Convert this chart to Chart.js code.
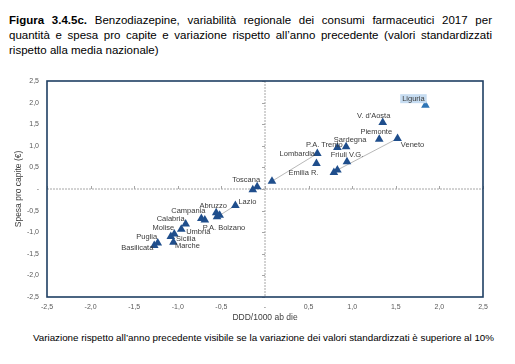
<!DOCTYPE html>
<html>
<head>
<meta charset="utf-8">
<script src="https://cdn.jsdelivr.net/npm/chart.js@4.4.0/dist/chart.umd.min.js"></script>
<style>
body{margin:0;background:#fff;width:515px;height:364px;overflow:hidden;position:relative;font-family:"Liberation Sans",Arial,sans-serif}
#title{position:absolute;left:9px;top:13px;width:483px;font-size:11.5px;line-height:15px;color:#000}
#title div{text-align:justify;text-align-last:justify}
#title div.last{text-align-last:left}
#wrap{position:absolute;left:0;top:60px;width:515px;height:270px}
#note{position:absolute;left:0;width:527px;top:332px;text-align:center;font-size:9.8px;color:#000}
</style>
</head>
<body>
<div id="title">
  <div><b>Figura 3.4.5c.</b> Benzodiazepine, variabilità regionale dei consumi farmaceutici 2017 per</div>
  <div>quantità e spesa pro capite e variazione rispetto all’anno precedente (valori standardizzati</div>
  <div class="last">rispetto alla media nazionale)</div>
</div>
<div id="wrap"><canvas id="myScatter" width="515" height="270"></canvas></div>
<div id="note">Variazione rispetto all’anno precedente visibile se la variazione dei valori standardizzati è superiore al 10%</div>
<script>
// 2017 values, standardised on the national mean
const regions = ['Piemonte', "V. d'Aosta", 'Lombardia', 'P.A. Bolzano', 'P.A. Trento', 'Veneto', 'Friuli V.G.',
  'Liguria', 'Emilia R.', 'Toscana', 'Umbria', 'Marche', 'Lazio', 'Abruzzo', 'Molise', 'Campania',
  'Puglia', 'Basilicata', 'Calabria', 'Sicilia', 'Sardegna']
const ddd = [1.31, 1.35, 0.60, -0.55, 0.83, 1.52, 0.94, 1.84, 0.59, -0.09, -0.96, -1.05, -0.34, -0.56, -1.04, -0.73,
  -1.23, -1.27, -0.91, -1.08, 0.93]
const spesa = [1.15, 1.54, 0.82, -0.64, 0.96, 1.17, 0.63, 1.94, 0.59, 0.05, -0.93, -1.23, -0.38, -0.55, -1.04, -0.68,
  -1.25, -1.31, -0.81, -1.10, 0.98]

// previous year points (only the ones visible on the chart)
const prevDdd = [0.08, 0.83, -0.52, 0.79, -0.14, -0.69]
const prevSpesa = [0.18, 0.44, -0.61, 0.38, -0.02, -0.72]
const prevOf = ['Lombardia', 'Veneto', 'Lazio', null, null, null]

// label placement (pixels from the marker), style only
const labelOffset = {
  'Piemonte': [-3, -7], "V. d'Aosta": [-9, -7], 'Liguria': [-12, -6], 'Veneto': [15, 6], 'Sardegna': [4, -7],
  'P.A. Trento': [-13, -3], 'Lombardia': [-20, 0], 'Friuli V.G.': [0, -7], 'Emilia R.': [-13, 9],
  'Toscana': [-11, -7], 'Lazio': [12, -3], 'Abruzzo': [-3, -7], 'P.A. Bolzano': [7, 11], 'Campania': [-13, -7],
  'Calabria': [-15, -5], 'Umbria': [17, 3], 'Molise': [-11, -6], 'Sicilia': [15, 2], 'Marche': [14, 4],
  'Puglia': [-11, -6], 'Basilicata': [-17, 2]
}

const navy = '#1f4e8c'
const lightBlue = '#2e75b6'

const fmt = v => Math.abs(v) < 1e-9 ? '-' : v.toFixed(1).replace('.', ',')

let points = regions.map((r, i) => ({x: ddd[i], y: spesa[i]}))
let prevPoints = prevDdd.map((v, i) => ({x: v, y: prevSpesa[i]}))

let links = []
prevOf.forEach((r, i) => {
  if (!r) return
  let k = regions.indexOf(r)
  links.push({
    type: 'scatter',
    data: [{x: prevDdd[i], y: prevSpesa[i]}, {x: ddd[k], y: spesa[k]}],
    showLine: true,
    borderColor: '#a6a6a6',
    borderWidth: 0.8,
    pointRadius: 0,
    order: 3
  })
})

const frameAndZero = {
  id: 'frameAndZero',
  beforeDatasetsDraw(chart) {
    const {ctx, chartArea: a, scales: {x, y}} = chart
    const x0 = x.getPixelForValue(0)
    const y0 = y.getPixelForValue(0)
    ctx.save()
    ctx.strokeStyle = '#a6a6a6'
    ctx.lineWidth = 1
    ctx.setLineDash([2, 1])
    ctx.beginPath()
    ctx.moveTo(a.left, y0); ctx.lineTo(a.right, y0)
    ctx.moveTo(x0, a.top); ctx.lineTo(x0, a.bottom)
    ctx.stroke()
    ctx.setLineDash([])
    ctx.beginPath()
    x.ticks.forEach(t => {
      let px = Math.round(x.getPixelForValue(t.value)) + 0.5
      ctx.moveTo(px, y0 - 3); ctx.lineTo(px, y0)
    })
    y.ticks.forEach(t => {
      let py = Math.round(y.getPixelForValue(t.value)) + 0.5
      ctx.moveTo(x0, py); ctx.lineTo(x0 - 3, py)
    })
    ctx.stroke()
    ctx.strokeStyle = '#1f3f63'
    ctx.lineWidth = 1.6
    ctx.strokeRect(a.left, a.top, a.right - a.left, a.bottom - a.top)
    ctx.restore()
  }
}

const pointLabels = {
  id: 'pointLabels',
  afterDatasetsDraw(chart) {
    const ctx = chart.ctx
    const meta = chart.getDatasetMeta(0)
    ctx.save()
    ctx.font = '7.5px "Liberation Sans", Arial, sans-serif'
    ctx.textAlign = 'center'
    ctx.textBaseline = 'middle'
    meta.data.forEach((el, i) => {
      let name = regions[i]
      let off = labelOffset[name] || [8, 0]
      let tx = el.x + off[0], ty = el.y + off[1]
      if (name === 'Liguria') {
        let w = ctx.measureText(name).width
        ctx.fillStyle = '#c6dcf1'
        ctx.fillRect(tx - w / 2 - 2, ty - 5, w + 4, 9)
      }
      ctx.fillStyle = '#3a3a3a'
      ctx.fillText(name, tx, ty)
    })
    ctx.restore()
  }
}

let ctx = document.querySelector('#myScatter').getContext('2d')
let myScatter = new Chart(ctx, {
  type: 'scatter',
  data: {
    datasets: [{
      data: points,
      pointStyle: 'triangle',
      pointRadius: 5,
      backgroundColor: regions.map(r => r === 'Liguria' ? lightBlue : navy),
      borderColor: regions.map(r => r === 'Liguria' ? lightBlue : navy),
      borderWidth: 0,
      order: 1
    }, {
      data: prevPoints,
      pointStyle: 'triangle',
      pointRadius: 5,
      backgroundColor: navy,
      borderColor: navy,
      borderWidth: 0,
      order: 2
    }].concat(links)
  },
  options: {
    responsive: false,
    animation: false,
    devicePixelRatio: 1,
    layout: {padding: {top: 21, right: 32, left: 0, bottom: 0}},
    plugins: {legend: {display: false}, tooltip: {enabled: false}},
    scales: {
      x: {
        type: 'linear', min: -2.5, max: 2.5,
        ticks: {stepSize: 0.5, callback: fmt, color: '#595959', font: {size: 7}, padding: 6, maxRotation: 0},
        grid: {display: false, drawTicks: false},
        border: {display: false},
        title: {display: true, text: 'DDD/1000 ab die', color: '#404040', font: {size: 8.5}, padding: {top: 0, bottom: 7}},
        afterFit(s) { s.height = 33 }
      },
      y: {
        type: 'linear', min: -2.5, max: 2.5,
        ticks: {stepSize: 0.5, callback: fmt, color: '#595959', font: {size: 7}, padding: 8},
        grid: {display: false, drawTicks: false},
        border: {display: false},
        title: {display: true, text: 'Spesa pro capite (€)', color: '#404040', font: {size: 8.5}, padding: {top: 14, bottom: 0}},
        afterFit(s) { s.width = 47 }
      }
    }
  },
  plugins: [frameAndZero, pointLabels]
})
</script>
</body>
</html>
